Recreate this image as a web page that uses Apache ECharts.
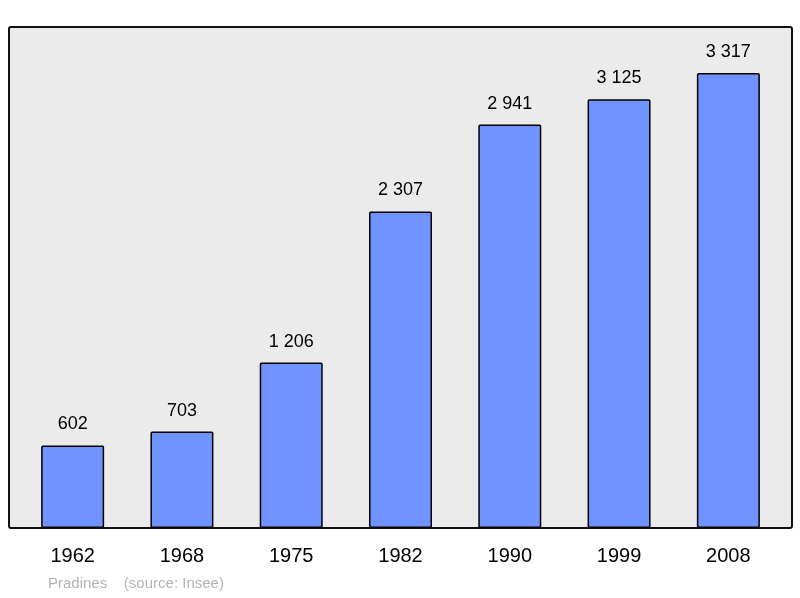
<!DOCTYPE html>
<html><head><meta charset="utf-8">
<script src="https://cdn.jsdelivr.net/npm/echarts@6/dist/echarts.min.js"></script>
<style>html,body{margin:0;padding:0;background:#fff}#c{width:800px;height:598px}</style>
</head><body><div id="c"></div>
<script>
const years = ['1962','1968','1975','1982','1990','1999','2008'];
const population = [602, 703, 1206, 2307, 2941, 3125, 3317];
const footer = 'Pradines    (source: Insee)';
const chart = echarts.init(document.getElementById('c'));
const fmt = v => String(v).replace(/\B(?=(\d{3})+(?!\d))/g, ' ');
chart.setOption({
  animation: false,
  graphic: [
    {type:'rect', z:-10, shape:{x:9,y:27,width:783,height:501,r:2}, style:{fill:'#ebebeb', stroke:'#111', lineWidth:2}},
    {type:'text', left:48, top:576, style:{text:footer, fill:'#b3b3b3', fontSize:15, fontFamily:'Liberation Sans, Arial, sans-serif'}}
  ],
  grid: {left:18, right:17, top:27, bottom:70},
  xAxis: {type:'category', data:years, axisLine:{show:false}, axisTick:{show:false},
    axisLabel:{fontSize:20, color:'#000', margin:18, fontFamily:'Liberation Sans, Arial, sans-serif'}},
  yAxis: {type:'value', min:0, max:3652, show:false, splitLine:{show:false}},
  series: [{type:'bar', data:population, barWidth:63,
    itemStyle:{color:'#7094ff', borderColor:'#000', borderWidth:1.5, borderRadius:1},
    label:{show:true, position:'top', distance:12, fontSize:18, color:'#000',
      fontFamily:'Liberation Sans, Arial, sans-serif', formatter:p=>fmt(p.value)}}]
});
</script></body></html>
